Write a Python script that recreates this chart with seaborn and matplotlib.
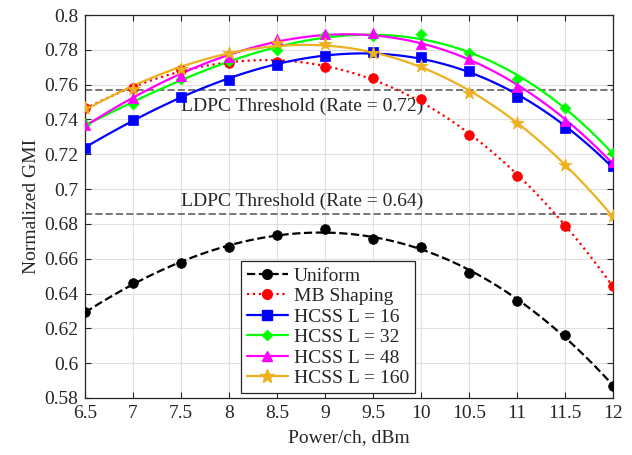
import numpy as np
import pandas as pd
import matplotlib
matplotlib.use("Agg")
import matplotlib.pyplot as plt
import seaborn as sns
from matplotlib.lines import Line2D
from matplotlib.ticker import FuncFormatter

# data
power = [6.5, 7, 7.5, 8, 8.5, 9, 9.5, 10, 10.5, 11, 11.5, 12]
uniform = [0.6292, 0.6459, 0.6574, 0.6667, 0.6735, 0.6771, 0.6712, 0.6669, 0.6520, 0.6359, 0.6162, 0.5869]
mb_shaping = [0.7464, 0.7579, 0.7685, 0.7726, 0.7732, 0.7700, 0.7638, 0.7517, 0.7313, 0.7075, 0.6788, 0.6445]
hcss_16 = [0.7238, 0.7397, 0.7531, 0.7627, 0.7711, 0.7766, 0.7786, 0.7760, 0.7680, 0.7531, 0.7349, 0.7133]
hcss_32 = [0.7374, 0.7487, 0.7632, 0.7735, 0.7799, 0.7883, 0.7879, 0.7889, 0.7784, 0.7631, 0.7464, 0.7209]
hcss_48 = [0.7368, 0.7525, 0.7650, 0.7760, 0.7860, 0.7889, 0.7895, 0.7832, 0.7749, 0.7588, 0.7393, 0.7154]
hcss_160 = [0.7468, 0.7577, 0.7690, 0.7780, 0.7837, 0.7833, 0.7780, 0.7709, 0.7554, 0.7378, 0.7138, 0.6845]

thresholds = [0.7569, 0.6855]
threshold_labels = ["LDPC Threshold (Rate = 0.72)", "LDPC Threshold (Rate = 0.64)"]

series = [
    ("Uniform", uniform, "black", "--", "o", 7),
    ("MB Shaping", mb_shaping, "#ff0000", ":", "o", 7),
    ("HCSS L = 16", hcss_16, "#0000ff", "-", "s", 6.5),
    ("HCSS L = 32", hcss_32, "#00ff00", "-", "D", 5.5),
    ("HCSS L = 48", hcss_48, "#ff00ff", "-", "^", 7.5),
    ("HCSS L = 160", hcss_160, "#EDB120", "-", "*", 10),
]

sns.set_style("whitegrid")
plt.rcParams['font.family'] = ['Liberation Serif', 'DejaVu Serif']
plt.rcParams['mathtext.fontset'] = 'stix'

fig = plt.figure(figsize=(6.32, 4.55), dpi=100)
ax = fig.add_axes([0.1345, 0.1253, 0.8355, 0.8417])

handles = []
for name, vals, color, ls, marker, ms in series:
    df = pd.DataFrame({'power': power, 'gmi': vals})
    # smooth fitted curve, like the original
    sns.regplot(data=df, x='power', y='gmi', order=3, ci=None, scatter=False, ax=ax,
                line_kws={'color': color, 'linestyle': ls, 'linewidth': 1.6})
    sns.scatterplot(data=df, x='power', y='gmi', ax=ax, color=color, marker=marker,
                    s=ms ** 2, edgecolor=color, linewidth=0.5, zorder=5, legend=False)
    handles.append(Line2D([0], [0], color=color, linestyle=ls, linewidth=1.6,
                          marker=marker, markersize=ms, markeredgecolor=color))

# threshold lines
for th in thresholds:
    ax.axhline(th, color='#777777', linestyle='--', linewidth=1.4, zorder=1)
ax.text(7.5, thresholds[0] - 0.0045, threshold_labels[0], fontsize=14, va='top', ha='left')
ax.text(7.5, thresholds[1] + 0.0025, threshold_labels[1], fontsize=14, va='bottom', ha='left')

ax.set_xlim(6.5, 12)
ax.set_ylim(0.58, 0.8)
ax.set_xticks(np.arange(6.5, 12.01, 0.5))
ax.set_yticks(np.arange(0.58, 0.8001, 0.02))
fmt = FuncFormatter(lambda v, p: f"{round(v, 2):g}")
ax.xaxis.set_major_formatter(fmt)
ax.yaxis.set_major_formatter(fmt)
ax.tick_params(direction='in', length=4, labelsize=14, colors='#262626', pad=5,
               top=True, right=True, left=True, bottom=True, labelcolor='#262626')
ax.grid(True, color='#e0e0e0', linewidth=0.8)
for sp in ax.spines.values():
    sp.set_color('#262626')
    sp.set_linewidth(0.9)
ax.set_xlabel("Power/ch, dBm", fontsize=14, color='#262626', labelpad=5)
ax.set_ylabel("Normalized GMI", fontsize=14, color='#262626', labelpad=3)

leg = ax.legend(handles=handles, labels=[s[0] for s in series], loc='lower left',
                bbox_to_anchor=(0.2955, 0.013), fontsize=14, frameon=True, fancybox=False,
                edgecolor='#262626', framealpha=1, handlelength=2.1, borderpad=0.3,
                labelspacing=0.15, handletextpad=0.3, borderaxespad=0)
leg.get_frame().set_linewidth(0.9)

plt.savefig('out.png', dpi=100)
